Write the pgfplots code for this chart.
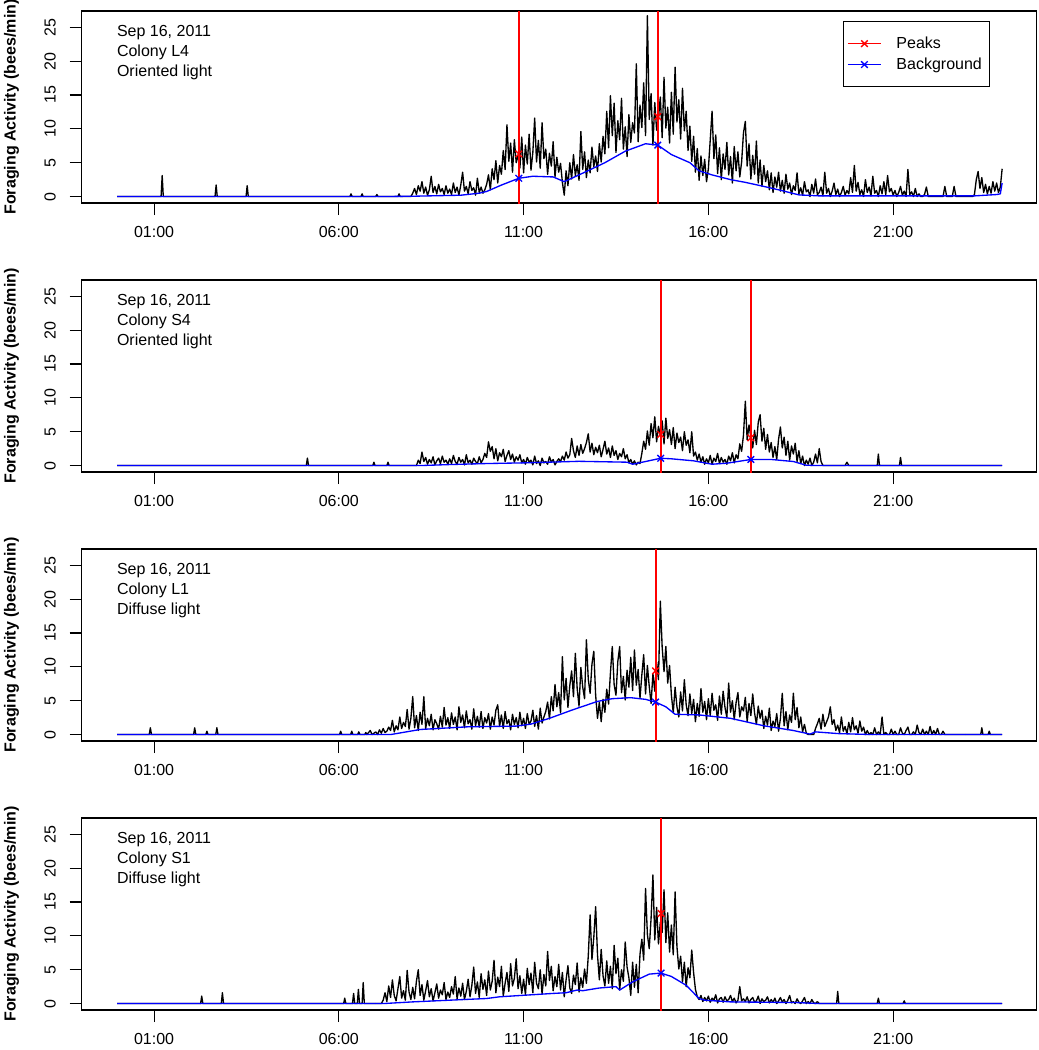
\documentclass[border=0pt]{standalone}
\usepackage{fontspec}
\setmainfont{Liberation Sans}
\usepackage{pgfplots}
\usepackage{pgfplotstable}
\pgfplotsset{compat=1.18}

% Panel 1 (L4): 0.05 h steps from 08:00
\pgfplotstableread[row sep=\\]{y\\
0.5\\1.2\\0.3\\1.6\\0.8\\2.2\\0.5\\1.4\\0.2\\1.0\\3.0\\0.6\\1.5\\0.4\\1.8\\0.7\\1.2\\0.3\\1.6\\0.5\\
1.1\\0.3\\2.0\\0.6\\1.4\\0.2\\1.7\\3.6\\0.8\\1.5\\0.4\\2.2\\0.9\\1.3\\0.2\\2.7\\0.6\\1.4\\0.5\\1.0\\
1.8\\3.2\\1.0\\4.1\\2.5\\5.3\\2.0\\4.6\\3.3\\6.8\\4.0\\10.6\\5.2\\7.9\\3.6\\8.4\\5.0\\6.1\\4.2\\8.8\\
3.5\\7.6\\4.8\\9.2\\3.9\\6.5\\11.6\\5.1\\8.3\\4.2\\10.9\\5.6\\7.0\\3.3\\6.4\\4.5\\8.1\\2.9\\5.8\\3.6\\
4.9\\2.1\\0.2\\3.8\\1.6\\5.0\\2.6\\6.2\\3.1\\4.7\\2.4\\9.6\\4.0\\6.6\\2.8\\5.4\\3.5\\7.3\\4.4\\6.0\\
3.7\\7.8\\5.1\\8.9\\6.3\\12.6\\7.2\\14.9\\9.0\\13.8\\6.5\\11.2\\8.4\\14.5\\7.0\\10.3\\5.9\\12.1\\8.0\\10.9\\
9.4\\19.6\\8.1\\13.5\\10.2\\16.8\\9.0\\26.7\\11.4\\15.2\\7.6\\13.9\\9.8\\11.6\\14.7\\8.7\\17.6\\10.1\\13.2\\7.9\\
15.4\\9.2\\19.1\\11.0\\14.3\\8.5\\16.0\\9.7\\12.6\\6.8\\10.4\\5.2\\8.9\\3.6\\7.1\\2.4\\6.0\\3.1\\5.5\\2.2\\
4.1\\8.3\\12.6\\5.6\\9.1\\3.4\\7.2\\2.5\\6.3\\4.0\\8.0\\3.2\\5.9\\2.0\\7.4\\3.8\\6.6\\2.9\\5.1\\9.4\\
11.1\\4.5\\7.8\\2.6\\6.1\\3.3\\8.2\\2.0\\5.4\\1.5\\4.6\\2.2\\3.8\\1.0\\3.5\\0.6\\2.9\\1.4\\3.6\\0.8\\
2.4\\0.5\\3.3\\1.1\\2.0\\0.3\\1.6\\0.9\\3.5\\0.4\\1.3\\0.2\\2.2\\0.7\\1.0\\0.0\\1.8\\0.5\\2.6\\0.3\\
0.6\\1.4\\0.1\\3.6\\0.5\\1.2\\0.0\\0.8\\2.0\\0.3\\1.1\\0.0\\0.6\\1.5\\0.2\\0.9\\0.4\\2.8\\0.6\\4.6\\
0.8\\2.1\\0.3\\1.0\\0.0\\2.5\\0.6\\1.4\\0.1\\3.0\\0.5\\0.9\\0.0\\1.6\\0.4\\2.2\\0.3\\3.1\\0.7\\1.2\\
0.2\\0.9\\0.0\\0.6\\1.5\\0.2\\0.8\\0.0\\4.0\\0.3\\0.7\\0.0\\1.2\\0.0\\0.4\\0.0\\0.0\\0.3\\1.4\\0.0\\
0\\0\\0\\0\\0\\0\\0\\0\\1.5\\0\\0\\0\\0\\1.5\\0\\0\\0\\0\\0\\0\\
0\\0\\0\\0\\0.3\\2.5\\3.7\\1.2\\2.8\\0.6\\1.8\\0.4\\1.5\\0.5\\2.2\\0.8\\2.0\\0.6\\1.4\\4.1\\
}\tA

% Panel 2 (S4): from 08:00
\pgfplotstableread[row sep=\\]{y\\
0\\0\\0\\0.8\\0.3\\2.0\\0.6\\1.2\\0.2\\0.9\\0.4\\1.3\\0.1\\0.7\\1.1\\0.3\\1.4\\0.5\\0.8\\0.2\\
1.0\\0.3\\1.5\\0.6\\0.2\\1.2\\0.5\\0.9\\0.1\\1.6\\0.4\\0.8\\0.2\\1.1\\0.6\\0.3\\1.3\\0.4\\0.9\\1.8\\
1.2\\3.5\\2.1\\2.8\\1.0\\2.5\\0.7\\1.9\\1.3\\2.4\\0.6\\1.5\\2.2\\0.9\\1.7\\0.5\\1.3\\0.8\\1.6\\0.4\\
0.9\\0.2\\1.2\\0.5\\0.8\\0.1\\1.4\\0.3\\0.7\\0.0\\1.1\\0.4\\0.6\\0.2\\1.3\\0.5\\0.9\\0.1\\0.6\\1.0\\
0.6\\1.4\\0.8\\2.0\\1.1\\1.6\\4.0\\2.2\\1.2\\2.9\\1.5\\3.1\\1.8\\2.5\\3.4\\4.7\\2.0\\3.3\\1.6\\2.7\\
1.9\\3.0\\1.3\\2.4\\3.6\\1.7\\2.6\\1.2\\2.9\\1.5\\2.2\\0.9\\1.8\\1.3\\2.5\\1.0\\1.6\\0.4\\0.9\\0.2\\
0.7\\0.1\\0.5\\0.3\\1.8\\3.6\\2.4\\5.1\\3.0\\6.2\\4.1\\7.2\\3.5\\5.8\\4.4\\6.6\\3.2\\7.0\\4.0\\5.3\\
3.1\\5.6\\2.5\\4.8\\3.4\\4.2\\2.2\\5.0\\3.0\\3.8\\1.9\\5.0\\1.4\\2.0\\0.8\\1.7\\0.5\\1.3\\0.2\\1.0\\
0.4\\1.5\\0.2\\1.1\\0.6\\1.8\\0.3\\1.2\\0.5\\0.9\\0.2\\1.4\\0.7\\1.9\\0.4\\1.6\\1.0\\3.2\\2.1\\4.5\\
9.5\\3.8\\6.0\\4.2\\2.6\\5.2\\3.1\\6.4\\7.5\\3.6\\5.5\\2.4\\4.6\\2.0\\3.4\\1.2\\2.8\\0.9\\3.9\\5.7\\
2.6\\4.2\\1.5\\3.6\\0.8\\2.9\\1.7\\3.3\\0.6\\2.2\\0.3\\1.4\\0.0\\0.8\\0.2\\1.1\\0.0\\0.5\\1.7\\0.4\\
2.5\\0.6\\0\\0\\0\\0\\0\\0\\0\\0\\0\\0\\0\\0\\0\\0.5\\0\\0\\0\\0\\
}\tB

% Panel 3 (L1): from 07:00
\pgfplotstableread[row sep=\\]{y\\
0.4\\0.0\\0.7\\0.2\\0.9\\0.3\\0.5\\1.1\\0.6\\2.1\\0.4\\1.3\\0.7\\2.6\\0.9\\1.8\\1.2\\3.7\\0.8\\2.4\\
5.6\\1.0\\2.8\\0.6\\3.3\\1.5\\5.6\\0.9\\2.4\\1.3\\3.0\\0.7\\2.2\\1.6\\0.8\\2.7\\1.1\\4.0\\1.4\\2.5\\
0.9\\3.2\\1.5\\2.6\\0.7\\4.1\\1.8\\2.9\\1.0\\3.5\\1.6\\2.2\\0.8\\3.8\\1.3\\2.7\\1.1\\3.4\\0.9\\2.5\\
1.7\\3.1\\0.8\\2.6\\1.4\\3.6\\4.4\\1.2\\2.9\\0.9\\3.4\\1.6\\2.2\\0.7\\3.0\\1.5\\2.5\\1.0\\3.3\\1.3\\
2.4\\0.9\\3.1\\1.5\\2.0\\3.6\\1.2\\2.8\\0.8\\3.9\\1.7\\2.6\\3.4\\4.8\\2.3\\5.6\\3.5\\7.4\\4.1\\6.2\\
3.2\\11.5\\5.1\\8.3\\4.0\\7.2\\9.4\\5.6\\12.0\\6.8\\4.2\\9.9\\7.0\\5.3\\14.0\\8.2\\6.1\\10.4\\12.3\\5.8\\
2.4\\4.8\\1.9\\5.2\\3.3\\6.7\\4.5\\9.1\\13.0\\7.4\\5.8\\10.8\\13.0\\6.2\\8.6\\5.1\\9.5\\7.0\\11.4\\6.5\\
12.5\\7.3\\9.6\\5.4\\8.8\\11.8\\6.0\\10.2\\7.1\\4.6\\9.0\\6.4\\10.7\\8.1\\19.7\\12.9\\9.3\\13.0\\7.6\\10.2\\
5.8\\3.2\\7.0\\4.1\\2.6\\6.3\\3.5\\8.1\\4.4\\2.8\\6.0\\3.1\\5.2\\1.9\\4.6\\2.7\\6.8\\3.3\\4.9\\2.2\\
5.3\\2.8\\6.1\\3.6\\4.4\\2.1\\5.7\\3.0\\6.4\\4.0\\2.5\\7.6\\3.3\\5.0\\2.2\\4.7\\6.2\\2.6\\4.1\\3.5\\
5.5\\1.9\\4.6\\2.8\\6.0\\3.2\\1.5\\4.2\\2.4\\3.6\\0.9\\2.7\\1.4\\3.9\\0.6\\2.0\\1.2\\3.1\\0.5\\2.4\\
6.1\\1.3\\3.4\\0.7\\2.9\\1.8\\6.1\\2.2\\4.0\\1.0\\2.6\\0.4\\1.5\\0.2\\0\\0\\0\\0\\0.9\\1.6\\
2.4\\0.8\\3.0\\1.2\\1.9\\2.6\\4.1\\1.5\\2.2\\0.6\\1.4\\0.3\\2.6\\0.5\\1.2\\0.1\\1.8\\0.4\\2.5\\0.7\\
1.3\\0.2\\2.0\\0.5\\1.1\\0\\0.6\\0\\0.3\\0\\1.0\\0\\0.4\\0\\2.6\\0\\0.3\\0\\0\\0.8\\
0\\0.5\\0\\0\\1.0\\0.2\\0\\0.6\\1.1\\0\\0\\0.4\\0\\1.4\\0.3\\0\\0.8\\0\\0.5\\0\\
1.2\\0\\0.6\\0\\0.9\\0\\0\\0.5\\0\\0\\0\\0\\0\\0\\0\\0\\0\\0\\0\\0\\
}\tC

% Panel 4 (S1): from 07:00
\pgfplotstableread[row sep=\\]{y\\
0\\0\\0\\0\\0.5\\1.6\\0.3\\2.6\\0.9\\3.5\\1.2\\0.4\\2.2\\4.0\\0.8\\1.9\\0.5\\4.9\\1.7\\0.6\\
2.4\\0.7\\3.3\\5.0\\1.2\\2.8\\0.5\\1.9\\3.4\\1.0\\2.2\\0.4\\1.6\\2.9\\0.8\\2.0\\1.3\\3.1\\0.6\\1.7\\
0.9\\2.5\\1.4\\4.0\\0.7\\2.3\\1.1\\3.0\\0.6\\1.8\\3.6\\1.0\\2.7\\5.4\\1.5\\3.2\\0.9\\4.4\\2.1\\3.5\\
1.2\\4.8\\2.0\\3.3\\6.4\\1.6\\3.9\\2.5\\5.5\\1.1\\3.0\\4.6\\1.8\\5.9\\2.6\\3.7\\6.6\\2.2\\4.1\\1.5\\
3.6\\1.3\\5.2\\2.8\\4.5\\1.6\\6.1\\3.0\\2.2\\5.0\\1.4\\4.3\\2.6\\7.7\\3.4\\5.5\\1.9\\4.0\\2.5\\5.8\\
2.0\\4.6\\1.0\\3.5\\5.6\\2.3\\1.5\\4.2\\2.8\\6.0\\1.7\\3.8\\2.4\\5.1\\3.0\\7.0\\13.1\\6.5\\9.8\\14.3\\
7.2\\3.5\\8.0\\4.1\\2.6\\6.3\\3.0\\5.5\\2.2\\8.6\\4.4\\6.7\\2.0\\5.0\\3.3\\9.1\\5.4\\3.8\\1.2\\6.1\\
2.4\\5.8\\1.6\\7.3\\9.5\\6.4\\17.0\\10.2\\8.1\\12.6\\19.0\\9.4\\14.2\\8.8\\12.0\\10.5\\16.8\\9.0\\13.4\\7.6\\
11.6\\7.2\\16.5\\8.4\\5.1\\7.0\\3.2\\6.1\\2.5\\5.3\\3.8\\7.9\\4.6\\2.1\\1.0\\0.6\\1.2\\0.3\\0.9\\0.4\\
1.1\\0.2\\0.8\\0.5\\1.3\\0.1\\0.7\\0.9\\0.2\\1.0\\0.4\\0.6\\1.2\\0.3\\0.8\\0.1\\0.5\\2.5\\0.4\\0.7\\
0.3\\1.0\\0.1\\0.6\\0.9\\0.2\\0.4\\1.1\\0\\0.7\\0.3\\0.5\\1.0\\0.1\\0.6\\0.2\\0.8\\0\\0.4\\0.9\\
0.2\\0.6\\0\\0.5\\1.2\\0.1\\0.3\\0\\0.7\\0.2\\0\\0.4\\0.9\\0\\0.3\\0\\0.6\\0.1\\0\\0.3\\
}\tD

\pgfplotsset{
  panel/.style={
    scale only axis, width=716pt, height=144pt,
    xmin=-0.957, xmax=24.877, ymin=-0.95, ymax=27.4,
    xtick={1,6,11,16,21}, xticklabels={01:00,06:00,11:00,16:00,21:00},
    ytick={0,5,10,15,20,25},
    tick pos=left, tick align=outside, major tick length=9pt,
    tick style={black, line width=0.8pt},
    axis line style={line width=1.1pt},
    tick label style={font=\fontsize{12}{14}\selectfont},
    /pgf/number format/assume math mode=true,
    yticklabel style={rotate=90, anchor=south},
    xticklabel shift=5pt, yticklabel shift=7pt,
    ylabel={Foraging Activity (bees/min)},
    every axis y label/.style={at={(axis description cs:-0.0735,0.5)}, rotate=90, anchor=center, font=\bfseries\fontsize{12}{14}\selectfont},
  },
  blk/.style={black, line width=1pt, line join=round, no markers, forget plot},
  bgl/.style={blue, line width=1pt, line join=round, no markers, forget plot},
  pkl/.style={color=red, line width=1.5pt, no markers, forget plot},
  pkm/.style={red, only marks, mark=x, mark size=3.5pt, line width=1pt, forget plot},
  bgm/.style={blue, only marks, mark=x, mark size=3.5pt, line width=1pt, forget plot},
}

\newcommand{\info}[2]{\node[anchor=north west, align=left, inner sep=0pt, font=\fontsize{12}{15}\selectfont] at (rel axis cs:0.0367,0.927) {Sep 16, 2011\\Colony #1\\#2 light};}

\begin{document}
\begin{tikzpicture}
% ---------------- Panel 1 ----------------
\begin{axis}[panel, at={(0pt,0pt)}, anchor=north west,
  legend style={at={(axis description cs:0.9518,0.948)}, anchor=north east, draw=black, line width=0.8pt,
    font=\fontsize{12}{14}\selectfont, inner xsep=3pt, inner ysep=10.5pt, row sep=3.5pt,
    nodes={inner xsep=3pt, inner ysep=1pt}, cells={anchor=west},
    /tikz/every odd column/.append style={column sep=8pt}},
  legend image code/.code={\draw[mark repeat=2,mark phase=2,#1] plot coordinates {(0pt,0pt)(12.5pt,0pt)(25pt,0pt)};}]
\addplot[blk] coordinates {(0,0)(1.19,0)(1.22,3.1)(1.25,0)(2.65,0)(2.68,1.7)(2.71,0)(3.49,0)(3.52,1.6)(3.55,0)(6.3,0)(6.33,0.4)(6.36,0)(6.6,0)(6.63,0.4)(6.66,0)(7.0,0)(7.03,0.3)(7.06,0)(7.6,0)(7.63,0.4)(7.66,0)(7.95,0)(8.0,0.5)};
\addplot[blk] table[x expr=8+0.05*\coordindex, y=y] {\tA};
\addplot[bgl] coordinates {(0,0)(7.1,0)(8.0,0.05)(9.3,0.2)(9.8,0.5)(10.0,0.75)(10.4,1.7)(10.87,2.7)(11.25,3.0)(11.8,2.9)(12.1,2.2)(12.5,3.2)(13.2,5.0)(13.75,6.7)(14.3,7.8)(14.63,7.6)(15.0,6.2)(15.5,5.0)(15.75,3.8)(16.1,3.2)(16.6,2.5)(17.0,2.1)(17.5,1.5)(17.9,1.0)(18.45,0.25)(19,0.1)(23.2,0.1)(23.8,0.3)(23.9,0.4)(23.95,2.0)};
\addplot[pkl] coordinates {(10.87,-5)(10.87,40)};
\addplot[pkl] coordinates {(14.63,-5)(14.63,40)};
\addplot[pkm] coordinates {(10.87,6.3)(14.63,11.8)};
\addplot[bgm] coordinates {(10.87,2.7)(14.63,7.6)};
\addlegendimage{red, line width=1pt, mark=x, mark size=3.5pt}
\addlegendentry{Peaks}
\addlegendimage{blue, line width=1pt, mark=x, mark size=3.5pt}
\addlegendentry{Background}
\info{L4}{Oriented}
\end{axis}
% ---------------- Panel 2 ----------------
\begin{axis}[panel, at={(0pt,-201.75pt)}, anchor=north west]
\addplot[blk] coordinates {(0,0)(5.12,0)(5.15,1.1)(5.18,0)(6.92,0)(6.95,0.5)(6.98,0)(7.3,0)(7.33,0.5)(7.36,0)(8.0,0)};
\addplot[blk] table[x expr=8+0.05*\coordindex, y=y] {\tB};
\addplot[blk] coordinates {(19.95,0)(20.57,0)(20.6,1.7)(20.63,0)(21.17,0)(21.2,1.2)(21.23,0)(23.95,0)};
\addplot[bgl] coordinates {(0,0)(8.2,0)(9,0.15)(10,0.3)(11,0.4)(12,0.55)(12.5,0.63)(13.3,0.55)(13.8,0.5)(13.95,0.2)(14.3,0.6)(14.71,1.08)(15.0,1.0)(15.6,0.7)(16.1,0.2)(16.5,0.35)(17.15,0.9)(17.7,0.9)(18.3,0.6)(18.65,0.05)(19,0)(23.95,0)};
\addplot[pkl] coordinates {(14.71,-5)(14.71,40)};
\addplot[pkl] coordinates {(17.15,-5)(17.15,40)};
\addplot[pkm] coordinates {(14.71,4.6)(17.15,4.1)};
\addplot[bgm] coordinates {(14.71,1.08)(17.15,0.9)};
\info{S4}{Oriented}
\end{axis}
% ---------------- Panel 3 ----------------
\begin{axis}[panel, at={(0pt,-403.5pt)}, anchor=north west]
\addplot[blk] coordinates {(0,0)(0.87,0)(0.9,1.0)(0.93,0)(2.07,0)(2.1,1.0)(2.13,0)(2.4,0)(2.43,0.5)(2.46,0)(2.67,0)(2.7,1.0)(2.73,0)(6.02,0)(6.05,0.5)(6.08,0)(6.32,0)(6.35,0.5)(6.38,0)(6.51,0)(6.54,0.4)(6.57,0)(6.7,0)(6.73,0.3)(6.76,0)(6.85,0.6)(6.9,0)(7.0,0.4)};
\addplot[blk] table[x expr=7+0.05*\coordindex, y=y] {\tC};
\addplot[blk] coordinates {(22.95,0)(23.37,0)(23.4,1.0)(23.43,0)(23.57,0)(23.6,0.5)(23.63,0)(23.95,0)};
\addplot[bgl] coordinates {(0,0)(7.4,0)(8.2,0.75)(9.5,1.15)(10.8,1.25)(11.2,1.55)(11.7,2.4)(12.3,3.6)(13.0,4.9)(13.4,5.3)(13.9,5.45)(14.3,5.2)(14.57,4.8)(14.85,4.1)(15.1,3.0)(15.75,2.9)(16.6,2.4)(17.5,1.3)(18.3,0.6)(18.75,0.07)(18.9,0.4)(19.5,0.15)(20.3,0.02)(23.95,0)};
\addplot[pkl] coordinates {(14.57,-5)(14.57,40)};
\addplot[pkm] coordinates {(14.57,9.4)};
\addplot[bgm] coordinates {(14.57,4.8)};
\info{L1}{Diffuse}
\end{axis}
% ---------------- Panel 4 ----------------
\begin{axis}[panel, at={(0pt,-605.25pt)}, anchor=north west]
\addplot[blk] coordinates {(0,0)(2.26,0)(2.29,1.1)(2.32,0)(2.82,0)(2.85,1.6)(2.88,0)(6.13,0)(6.16,0.8)(6.19,0)(6.37,0)(6.4,1.5)(6.43,0)(6.5,0)(6.53,2.1)(6.56,0)(6.63,0)(6.66,3.1)(6.69,0)(7.0,0)};
\addplot[blk] table[x expr=7+0.05*\coordindex, y=y] {\tD};
\addplot[blk] coordinates {(18.95,0.3)(19.0,0)(19.47,0)(19.5,1.8)(19.53,0)(20.57,0)(20.6,0.8)(20.63,0)(21.27,0)(21.3,0.4)(21.33,0)(23.95,0)};
\addplot[bgl] coordinates {(0,0)(7.2,0)(8.0,0.25)(10.0,0.75)(10.35,1.0)(11.8,1.5)(12.15,1.6)(12.45,2.0)(12.6,1.9)(13.05,2.3)(13.5,2.5)(13.6,2.0)(13.95,3.2)(14.4,4.35)(14.72,4.5)(15.0,4.0)(15.4,2.7)(15.75,0.74)(15.9,0.5)(16.6,0.25)(18.4,0.15)(19.0,0)(23.95,0)};
\addplot[pkl] coordinates {(14.72,-5)(14.72,40)};
\addplot[pkm] coordinates {(14.72,13.3)};
\addplot[bgm] coordinates {(14.72,4.5)};
\info{S1}{Diffuse}
\end{axis}
\pgfresetboundingbox
\useasboundingbox (-61.3pt,8.25pt) rectangle (717.75pt,-779.25pt);
\end{tikzpicture}
\end{document}
